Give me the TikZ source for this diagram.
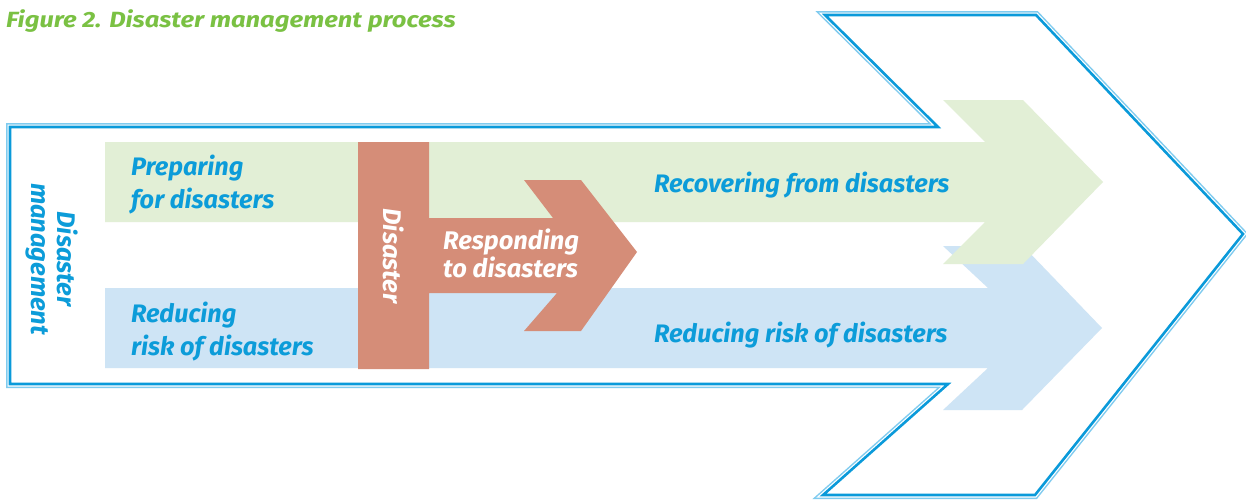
\documentclass[tikz,border=0pt]{standalone}
\usepackage{fontspec}
\setmainfont{Fira Sans}
\definecolor{titlegreen}{HTML}{7AC143}
\definecolor{txtblue}{HTML}{0C9CD9}
\definecolor{linedark}{HTML}{0A9ADA}
\definecolor{linelight}{HTML}{7FCBEF}
\definecolor{bandgreen}{HTML}{E2EFD6}
\definecolor{bandblue}{HTML}{CEE4F5}
\definecolor{salmon}{HTML}{D58D78}
\begin{document}
\begin{tikzpicture}[x=1pt,y=-1pt,
  lbl/.style={font=\fontsize{25.3}{33}\selectfont\bfseries\itshape, text=txtblue, inner sep=0pt, align=left},
  wlbl/.style={font=\fontsize{25.5}{25.5}\selectfont\bfseries\itshape, text=white, inner sep=0pt, align=left},
  vlbl/.style={font=\fontsize{25.5}{25.5}\selectfont\bfseries\itshape, inner sep=0pt, align=center, rotate=-90}]
\useasboundingbox (0,0) rectangle (1246,499);
\fill[white] (0,0) rectangle (1246,499);
% big outline arrow
\def\bigarrow{(10,127) -- (938,127) -- (825,15) -- (1036,15) -- (1243,234) -- (1035,495) -- (823,495) -- (948,384) -- (10,384) -- cycle}
\draw[linelight, line width=8pt, miter limit=20] \bigarrow;
\draw[white, line width=5pt, miter limit=20] \bigarrow;
\fill[white] \bigarrow;
\draw[linedark, line width=2.6pt, miter limit=20] \bigarrow;
% blue band
\fill[bandblue] (105,288) -- (988,288) -- (943,246) -- (1023,246) -- (1102,328) -- (1022,410) -- (943,410) -- (988,368) -- (105,368) -- cycle;
% green band
\fill[bandgreen] (105,142) -- (985,142) -- (943,100) -- (1023,100) -- (1103,182) -- (1023,264) -- (943,264) -- (985,222) -- (105,222) -- cycle;
% disaster bar and responding arrow
\fill[salmon] (358,142) -- (429,142) -- (429,218) -- (553,218) -- (524,180) -- (581,180) -- (637,252) -- (581,331) -- (524,331) -- (557,293) -- (429,293) -- (429,369) -- (358,369) -- cycle;
% texts
\node[anchor=base west, inner sep=0pt, text=titlegreen, font=\fontsize{22}{24}\selectfont\bfseries\itshape, xscale=1.16, transform shape] (title) at (6,27) {Figure 2. Disaster management process};
\node[lbl, anchor=base west] (prep) at (131,208) {Preparing\\for disasters};
\node[lbl, anchor=base west] (redl) at (131,355) {Reducing\\risk of disasters};
\node[lbl, anchor=base west] (recov) at (654,192) {Recovering from disasters};
\node[lbl, anchor=base west] (redr) at (654,342) {Reducing risk of disasters};
\node[wlbl, anchor=base west] (resp) at (443,277) {Responding\\to disasters};
\node[vlbl, text=white] (dis) at (394,256) {Disaster};
\node[vlbl, text=txtblue] (dm) at (52,259) {Disaster\\management};
\end{tikzpicture}
\end{document}
